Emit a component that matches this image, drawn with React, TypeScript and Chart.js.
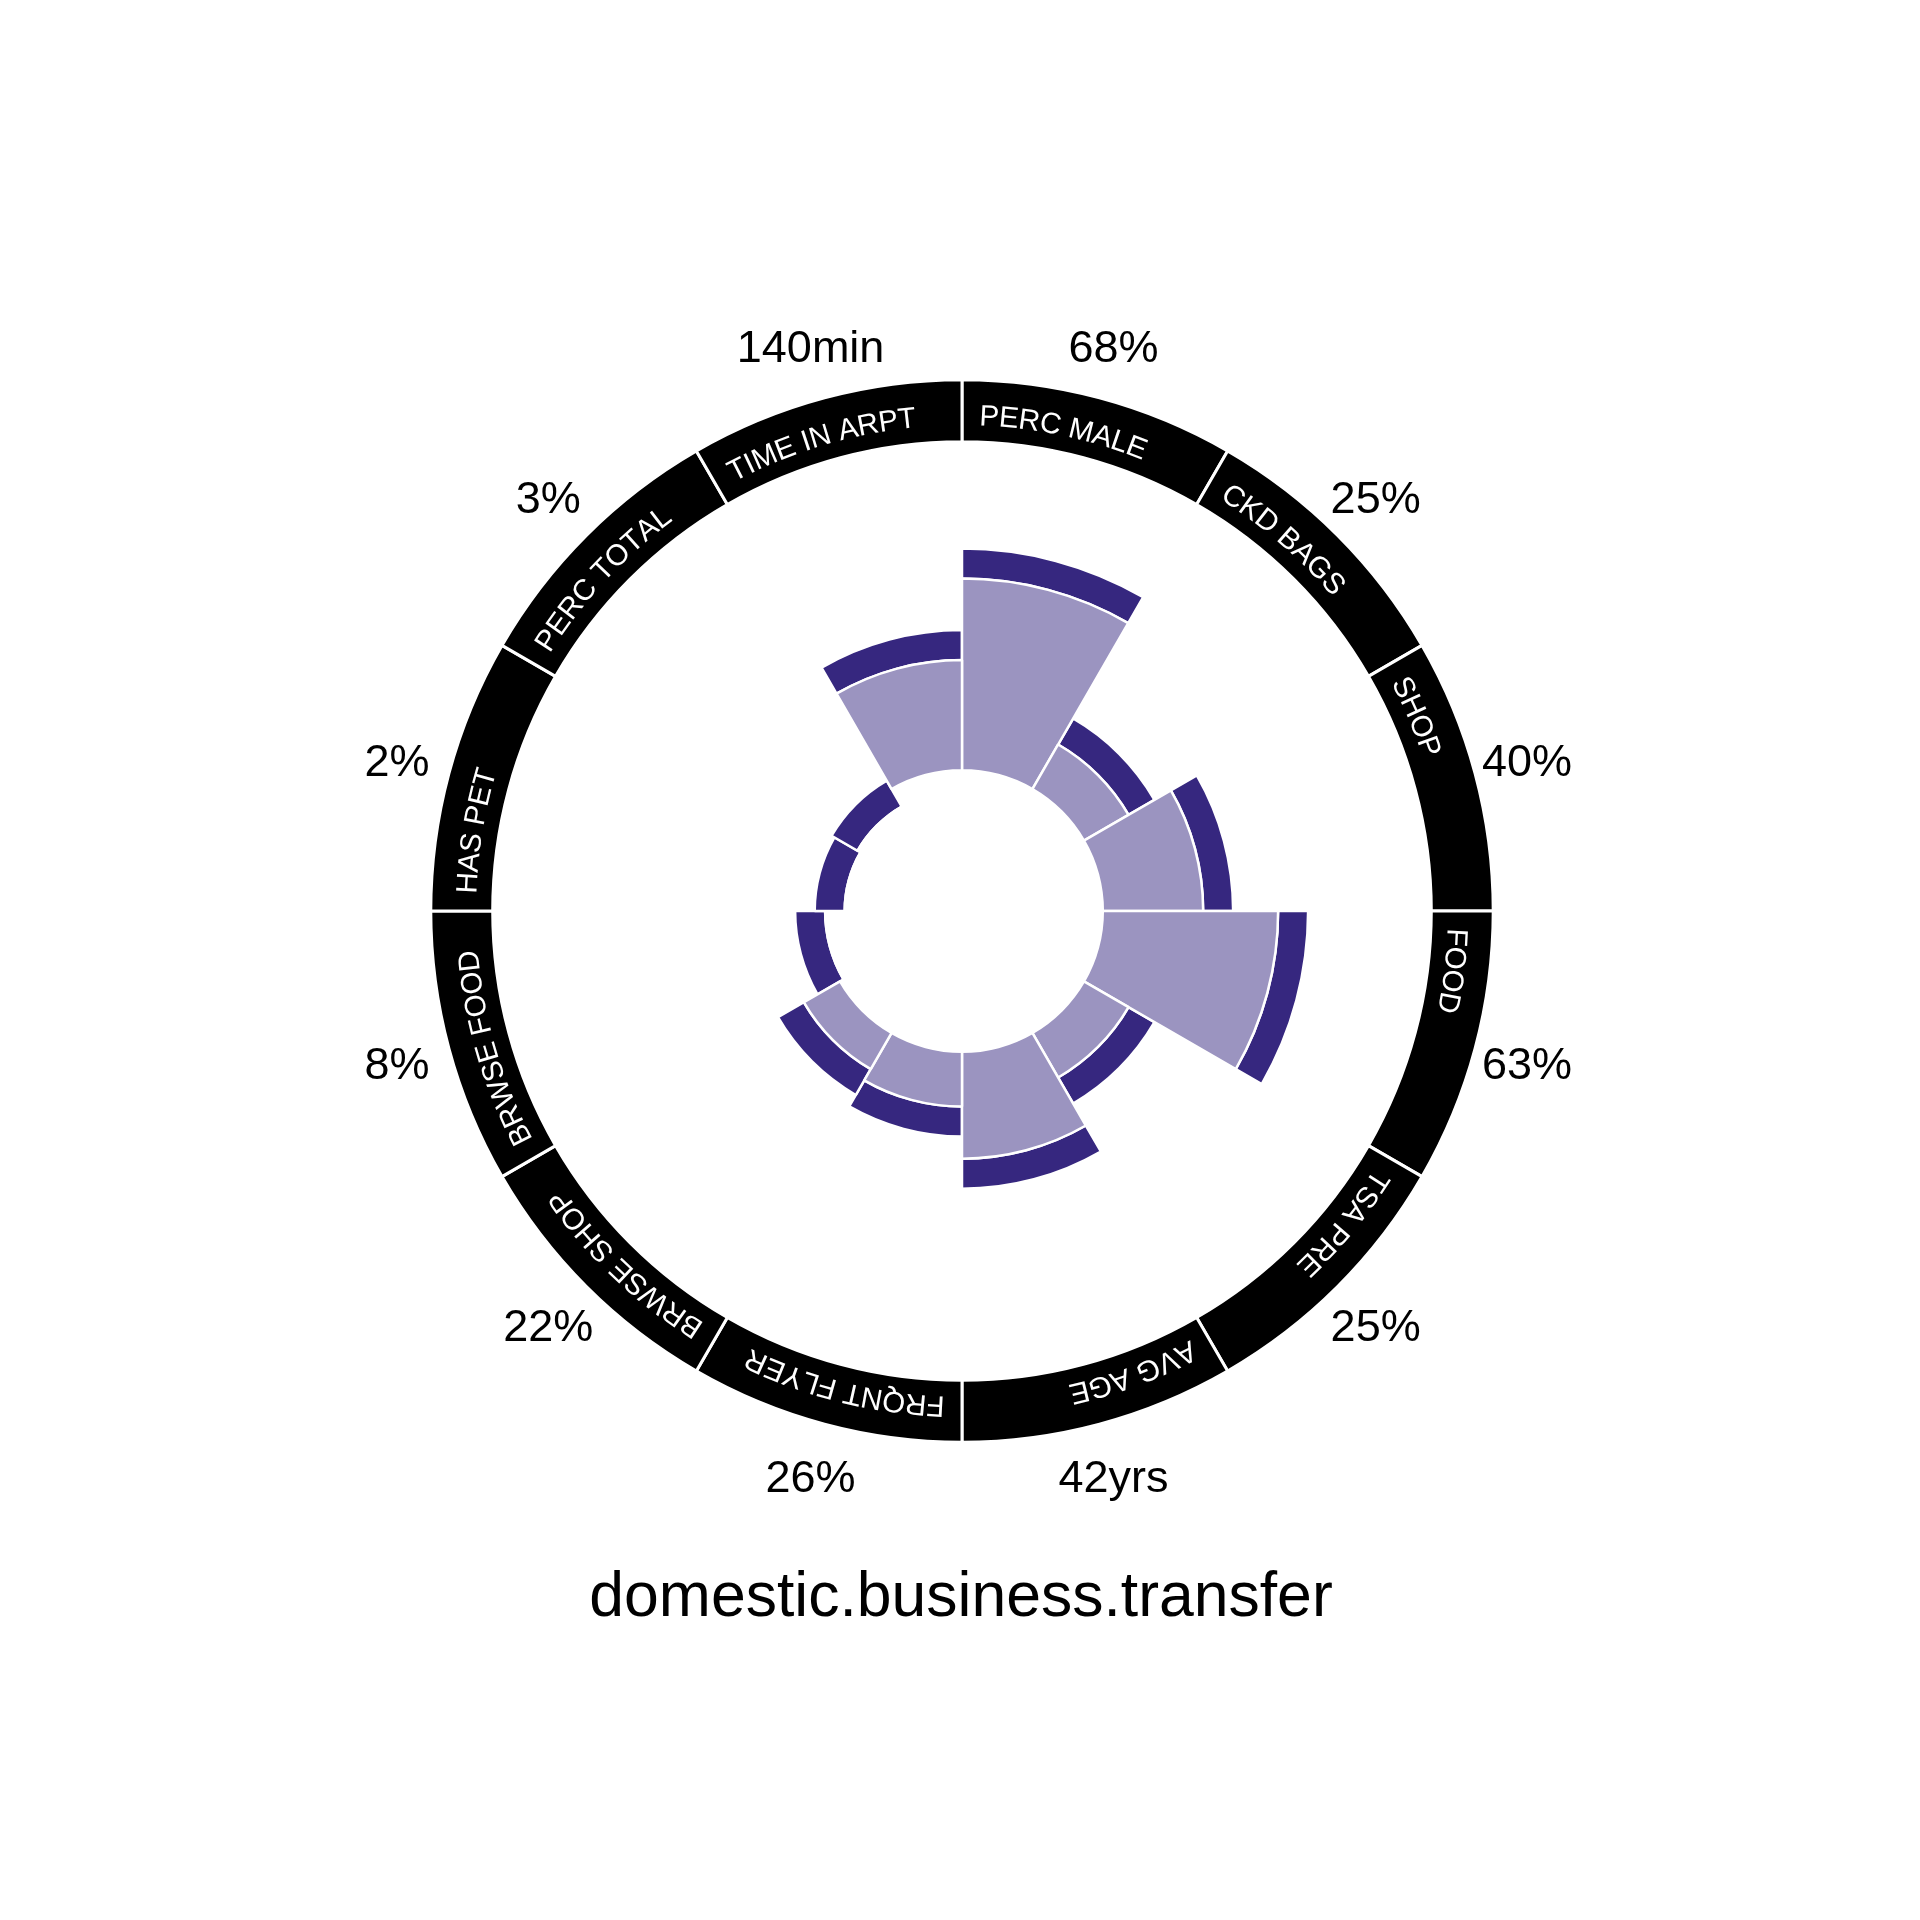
import React, { useEffect, useRef } from 'react';
import { Chart, registerables } from 'chart.js';

Chart.register(...registerables);

// ---- data ----
const categories = [
  'PERC MALE', 'CKD BAGS', 'SHOP', 'FOOD', 'TSA PRE', 'AVG AGE',
  'FRQNT FLYER', 'BRWSE SHOP', 'BRWSE FOOD', 'HAS PET', 'PERC TOTAL', 'TIME IN ARPT',
];
const valueLabels = ['68%', '25%', '40%', '63%', '25%', '42yrs', '26%', '22%', '8%', '2%', '3%', '140min'];
// plotted bar values (percent scale; time in airport shown scaled)
const barValues = [68, 25, 40, 63, 25, 42, 26, 22, 8, 2, 3, 43];
const BAR_BASE = 9.2; // where the light bars start
const CAP = 9.2; // thickness of the dark cap
const RING_INNER = 110;
const RING_OUTER = 129;
const RING_TEXT_R = 115.1;
const VALUE_LABEL_R = 145.5;
const TITLE = 'domestic.business.transfer';

const LIGHT = '#9b94c0';
const DARK = '#36277f';
const FONT = '"Liberation Sans", Arial, Helvetica, sans-serif';

const innerRadiusPlugin = {
  id: 'innerRadius',
  afterDatasetUpdate(chart: any, args: any) {
    const ds = chart.data.datasets[args.index];
    const scale = chart.scales.r;
    args.meta.data.forEach((arc: any, i: number) => {
      const rIn = scale.getDistanceFromCenterForValue(ds.innerValues[i]);
      arc.innerRadius = Math.min(rIn, arc.outerRadius);
    });
  },
};

const textPlugin = {
  id: 'texts',
  afterDraw(chart: any) {
    const ctx = chart.ctx as CanvasRenderingContext2D;
    const scale = chart.scales.r;
    const cx = scale.xCenter;
    const cy = scale.yCenter;
    const ringMeta = chart.getDatasetMeta(2);

    // curved ring labels
    ctx.save();
    ctx.fillStyle = '#ffffff';
    ctx.font = `29.5px ${FONT}`;
    ctx.textAlign = 'center';
    ctx.textBaseline = 'alphabetic';
    const rb = scale.getDistanceFromCenterForValue(RING_TEXT_R);
    ringMeta.data.forEach((arc: any, i: number) => {
      let phi = arc.startAngle + (2 * Math.PI) / 180;
      for (const ch of categories[i]) {
        const w = ctx.measureText(ch).width;
        const a = phi + w / 2 / rb;
        ctx.save();
        ctx.translate(cx + rb * Math.cos(a), cy + rb * Math.sin(a));
        ctx.rotate(a + Math.PI / 2);
        ctx.fillText(ch, 0, 0);
        ctx.restore();
        phi += (w * 0.985) / rb;
      }
    });
    ctx.restore();

    // value labels outside the ring
    ctx.save();
    ctx.fillStyle = '#000000';
    const fs = 45;
    ctx.font = `${fs}px ${FONT}`;
    ctx.textAlign = 'center';
    ctx.textBaseline = 'alphabetic';
    const rl = scale.getDistanceFromCenterForValue(VALUE_LABEL_R);
    ringMeta.data.forEach((arc: any, i: number) => {
      const a = (arc.startAngle + arc.endAngle) / 2;
      ctx.fillText(valueLabels[i], cx + rl * Math.cos(a), cy + rl * Math.sin(a) + 0.358 * fs);
    });
    ctx.restore();

    // title
    ctx.save();
    ctx.fillStyle = '#000000';
    ctx.font = `62.5px ${FONT}`;
    ctx.textAlign = 'center';
    ctx.textBaseline = 'alphabetic';
    ctx.fillText(TITLE, chart.width / 2 + 1, 1616);
    ctx.restore();
  },
};

export default function App() {
  const ref = useRef<HTMLCanvasElement>(null);
  useEffect(() => {
    if (!ref.current) return;
    const chart = new Chart(ref.current, {
      type: 'polarArea',
      data: {
        labels: categories,
        datasets: [
          {
            label: 'value',
            data: barValues,
            innerValues: barValues.map(() => BAR_BASE),
            backgroundColor: LIGHT,
            borderColor: '#ffffff',
            borderWidth: 2.5,
          } as any,
          {
            label: 'cap',
            data: barValues.map((v) => v + CAP),
            innerValues: barValues,
            backgroundColor: DARK,
            borderColor: '#ffffff',
            borderWidth: 2.5,
          } as any,
          {
            label: 'ring',
            data: categories.map(() => RING_OUTER),
            innerValues: categories.map(() => RING_INNER),
            backgroundColor: '#000000',
            borderColor: '#ffffff',
            borderWidth: 3,
          } as any,
        ],
      },
      options: {
        responsive: false,
        animation: false,
        devicePixelRatio: 1,
        layout: { padding: { left: 421, top: 370, right: 417, bottom: 468 } },
        plugins: {
          legend: { display: false },
          tooltip: { enabled: false },
          title: { display: false },
        },
        scales: {
          r: {
            min: -34,
            max: 132,
            ticks: { display: false },
            grid: { display: false },
            angleLines: { display: false },
            pointLabels: { display: false },
          },
        },
      } as any,
      plugins: [innerRadiusPlugin, textPlugin],
    });
    return () => chart.destroy();
  }, []);
  return (
    <div style={{ position: 'absolute', left: 0, top: 0, width: 1920, height: 1920, background: '#ffffff' }}>
      <canvas ref={ref} width={1920} height={1920} style={{ width: 1920, height: 1920, display: 'block' }} />
    </div>
  );
}
